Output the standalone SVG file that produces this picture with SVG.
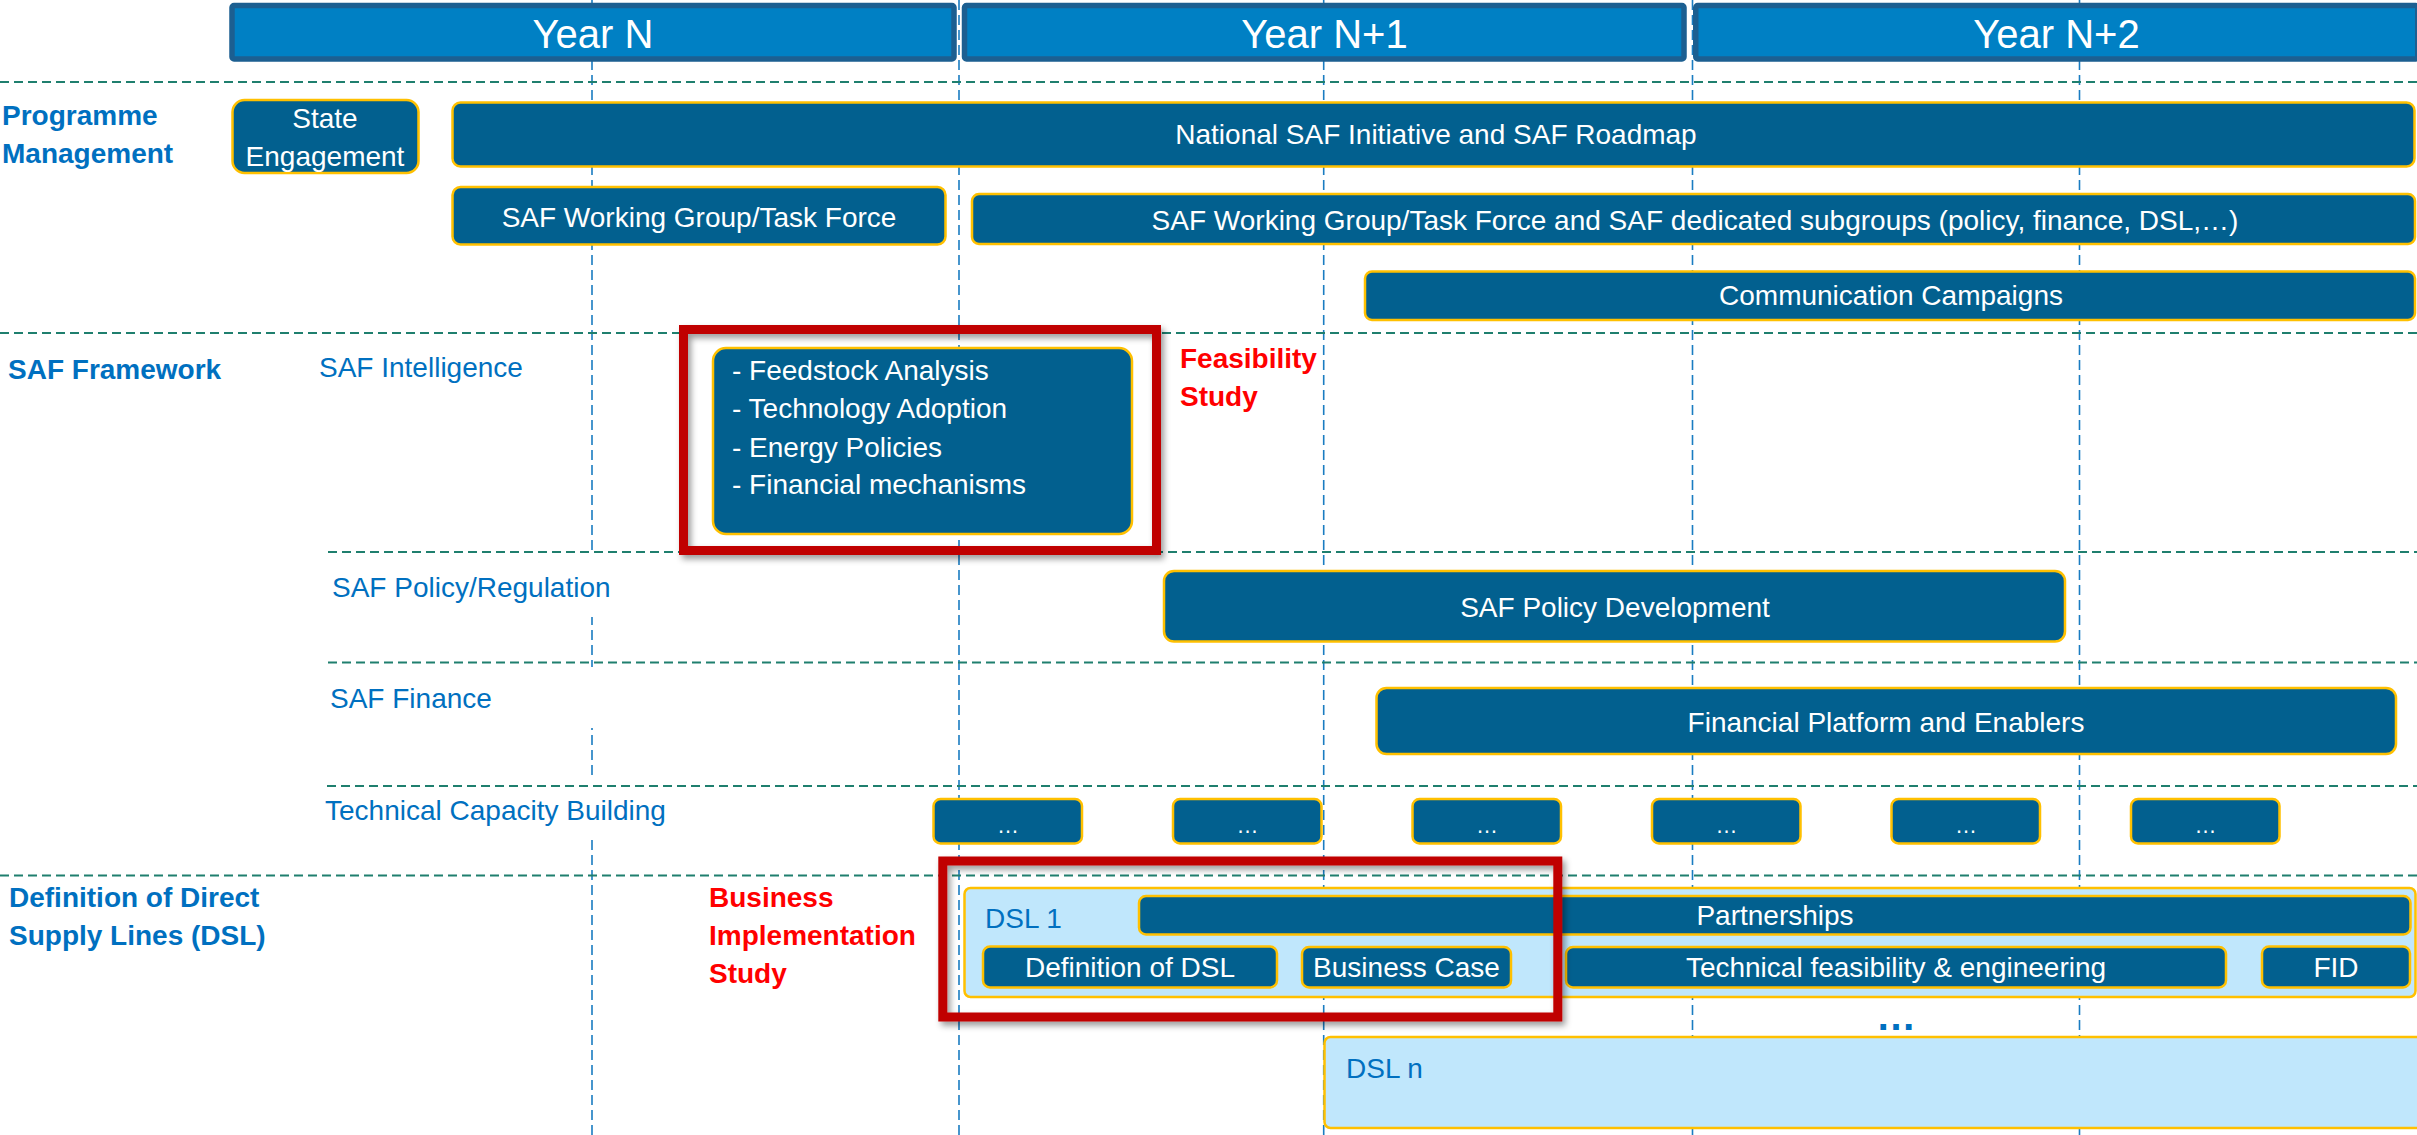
<svg xmlns="http://www.w3.org/2000/svg" width="2417" height="1135" viewBox="0 0 2417 1135">
<defs>
<style>
text{font-family:"Liberation Sans",Arial,sans-serif;font-size:28px}
.yr{fill:#0080C4;stroke:#1C5F91;stroke-width:5.5}
.yt{fill:#fff;font-size:40px;text-anchor:middle}
.bx{fill:#02608F;stroke:#FFC000;stroke-width:2.5}
.lb{fill:#C0E7FC;stroke:#FFC000;stroke-width:2.5}
.bt{fill:#fff;text-anchor:middle}
.wt{fill:#fff}
.hd{fill:#0070C0;font-weight:bold}
.sub{fill:#0070C0}
.red{fill:#FF0000;font-weight:bold}
.rf{fill:none;stroke:#C00000;stroke-width:9;filter:url(#sh)}
.hl{stroke:#1F7F6E;stroke-width:2.2;stroke-dasharray:9 5;fill:none}
.vl{stroke:#1A7CC1;stroke-width:1.6;stroke-dasharray:10 5;fill:none}
.cov{fill:#fff}
</style>
<filter id="sh" x="-5%" y="-5%" width="115%" height="120%">
<feDropShadow dx="3" dy="4" stdDeviation="3" flood-color="#000" flood-opacity="0.4"/>
</filter>
</defs>
<rect width="2417" height="1135" fill="#fff"/>

<g id="grid">
<g id="vertical-lines">
<line class="vl" x1="592" y1="0" x2="592" y2="1135"/>
<line class="vl" x1="959" y1="0" x2="959" y2="1135"/>
<line class="vl" x1="1323.7" y1="0" x2="1323.7" y2="1135"/>
<line class="vl" x1="1692.5" y1="0" x2="1692.5" y2="1135"/>
<line class="vl" x1="2079.5" y1="0" x2="2079.5" y2="1135"/>
</g>
<g id="label-covers">
<rect class="cov" x="326" y="553" width="292" height="64"/>
<rect class="cov" x="326" y="667" width="280" height="61"/>
<rect class="cov" x="322" y="780" width="358" height="60"/>
</g>
<g id="horizontal-lines">
<line class="hl" x1="0" y1="82" x2="2417" y2="82"/>
<line class="hl" x1="0" y1="333" x2="2417" y2="333"/>
<line class="hl" x1="328" y1="552" x2="2417" y2="552"/>
<line class="hl" x1="328" y1="662.5" x2="2417" y2="662.5"/>
<line class="hl" x1="327" y1="786" x2="2417" y2="786"/>
<line class="hl" x1="0" y1="875.5" x2="2417" y2="875.5"/>
</g>
</g>

<g id="year-n"><rect class="yr" x="232" y="5.5" width="722" height="53.5" rx="2"/><text class="yt" x="593" y="48">Year N</text></g>
<g id="year-n1"><rect class="yr" x="964.5" y="5.5" width="719.5" height="53.5" rx="2"/><text class="yt" x="1324.5" y="48">Year N+1</text></g>
<g id="year-n2"><rect class="yr" x="1695.75" y="5.5" width="722" height="53.5" rx="2"/><text class="yt" x="2056.5" y="48">Year N+2</text></g>

<g id="label-programme-management"><text class="hd" x="2" y="125">Programme</text><text class="hd" x="2" y="163">Management</text></g>
<g id="label-saf-framework"><text class="hd" x="8" y="379">SAF Framework</text></g>
<g id="label-dsl"><text class="hd" x="9" y="907">Definition of Direct</text><text class="hd" x="9" y="945">Supply Lines (DSL)</text></g>

<g id="label-saf-intelligence"><text class="sub" x="319" y="377">SAF Intelligence</text></g>
<g id="label-saf-policy"><text class="sub" x="332" y="597">SAF Policy/Regulation</text></g>
<g id="label-saf-finance"><text class="sub" x="330" y="708">SAF Finance</text></g>
<g id="label-tcb"><text class="sub" x="325" y="820">Technical Capacity Building</text></g>

<g id="state-engagement"><rect class="bx" x="232.5" y="100" width="186" height="73" rx="12"/><text class="bt" x="325" y="128">State</text><text class="bt" x="325" y="166">Engagement</text></g>
<g id="national-saf"><rect class="bx" x="452.5" y="102.5" width="1962" height="64" rx="8"/><text class="bt" x="1436" y="144">National SAF Initiative and SAF Roadmap</text></g>
<g id="saf-wg"><rect class="bx" x="452.5" y="187" width="493" height="57.5" rx="8"/><text class="bt" x="699" y="227">SAF Working Group/Task Force</text></g>
<g id="saf-wg-subgroups"><rect class="bx" x="972" y="194" width="1443" height="50" rx="7"/><text class="bt" x="1695" y="230">SAF Working Group/Task Force and SAF dedicated subgroups (policy, finance, DSL,…)</text></g>
<g id="communication"><rect class="bx" x="1365" y="271.5" width="1050" height="48.5" rx="7"/><text class="bt" x="1891" y="305">Communication Campaigns</text></g>

<g id="saf-intelligence-box"><rect class="bx" x="713" y="348" width="419" height="186" rx="13"/>
<text class="wt" x="732" y="380">- Feedstock Analysis</text>
<text class="wt" x="732" y="418">- Technology Adoption</text>
<text class="wt" x="732" y="457">- Energy Policies</text>
<text class="wt" x="732" y="494">- Financial mechanisms</text></g>
<g id="feasibility-study"><text class="red" x="1180" y="368">Feasibility</text><text class="red" x="1180" y="406">Study</text></g>

<g id="saf-policy-dev"><rect class="bx" x="1164" y="571" width="901" height="70.5" rx="10"/><text class="bt" x="1615" y="617">SAF Policy Development</text></g>
<g id="financial-platform"><rect class="bx" x="1376.5" y="688" width="1019.5" height="66" rx="10"/><text class="bt" x="1886" y="732">Financial Platform and Enablers</text></g>

<g id="tcb-1"><rect class="bx" x="933.5" y="799" width="148.5" height="44.5" rx="7"/><text class="bt" x="1008" y="833" style="font-size:22px">…</text></g>
<g id="tcb-2"><rect class="bx" x="1173" y="799" width="148.5" height="44.5" rx="7"/><text class="bt" x="1247.5" y="833" style="font-size:22px">…</text></g>
<g id="tcb-3"><rect class="bx" x="1412.5" y="799" width="148.5" height="44.5" rx="7"/><text class="bt" x="1487" y="833" style="font-size:22px">…</text></g>
<g id="tcb-4"><rect class="bx" x="1652" y="799" width="148.5" height="44.5" rx="7"/><text class="bt" x="1726.5" y="833" style="font-size:22px">…</text></g>
<g id="tcb-5"><rect class="bx" x="1891.5" y="799" width="148.5" height="44.5" rx="7"/><text class="bt" x="1966" y="833" style="font-size:22px">…</text></g>
<g id="tcb-6"><rect class="bx" x="2131" y="799" width="148.5" height="44.5" rx="7"/><text class="bt" x="2205.5" y="833" style="font-size:22px">…</text></g>

<g id="business-implementation-study"><text class="red" x="709" y="907">Business</text><text class="red" x="709" y="945">Implementation</text><text class="red" x="709" y="983">Study</text></g>

<g id="dsl-1"><rect class="lb" x="964.5" y="888" width="1451" height="109" rx="6"/><text class="sub" x="985" y="928">DSL 1</text></g>
<g id="partnerships"><rect class="bx" x="1139" y="896" width="1271.5" height="38.5" rx="7"/><text class="bt" x="1775" y="925">Partnerships</text></g>
<g id="definition-of-dsl"><rect class="bx" x="983" y="946.5" width="294" height="41" rx="7"/><text class="bt" x="1130" y="977">Definition of DSL</text></g>
<g id="business-case"><rect class="bx" x="1302" y="947" width="209" height="40.5" rx="7"/><text class="bt" x="1406.5" y="977">Business Case</text></g>
<g id="technical-feasibility"><rect class="bx" x="1566" y="947" width="660" height="40.5" rx="7"/><text class="bt" x="1896" y="977">Technical feasibility &amp; engineering</text></g>
<g id="fid"><rect class="bx" x="2262" y="946.5" width="148" height="41" rx="7"/><text class="bt" x="2336" y="977">FID</text></g>

<g id="more-dsl"><text x="1896" y="1030" style="fill:#0070C0;font-weight:bold;font-size:40px;text-anchor:middle">…</text></g>
<g id="dsl-n"><rect class="lb" x="1324.5" y="1037" width="1100" height="91" rx="6"/><text class="sub" x="1346" y="1077.5">DSL n</text></g>

<g id="highlight-feasibility"><rect class="rf" x="683.5" y="329.5" width="473" height="221"/></g>
<g id="highlight-business"><rect class="rf" x="942.8" y="861" width="615" height="156"/></g>

<g id="connectors"></g>
</svg>
